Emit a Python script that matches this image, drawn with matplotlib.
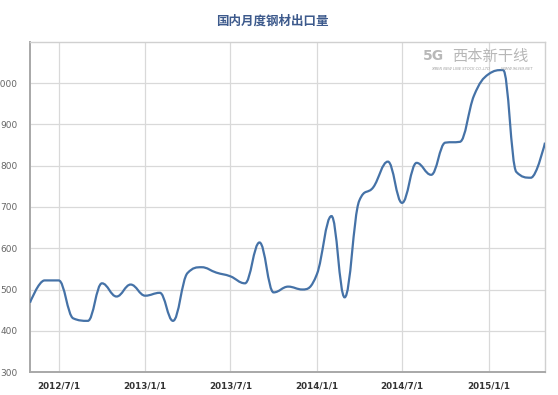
import datetime as dt
import numpy as np
import matplotlib
matplotlib.use('Agg')
import matplotlib.pyplot as plt
import matplotlib.dates as mdates
from matplotlib.path import Path
from matplotlib.patches import PathPatch

# monthly steel exports (10k tonnes), 2012/5 .. 2015/5
months = ['2012-05', '2012-06', '2012-07', '2012-08', '2012-09', '2012-10', '2012-11', '2012-12',
          '2013-01', '2013-02', '2013-03', '2013-04', '2013-05', '2013-06', '2013-07', '2013-08',
          '2013-09', '2013-10', '2013-11', '2013-12', '2014-01', '2014-02', '2014-03', '2014-04',
          '2014-05', '2014-06', '2014-07', '2014-08', '2014-09', '2014-10', '2014-11', '2014-12',
          '2015-01', '2015-02', '2015-03', '2015-04', '2015-05']
exports = [468, 522, 522, 430, 424, 515, 483, 512,
           485, 492, 424, 540, 554, 541, 532, 515,
           614, 493, 507, 500, 537, 678, 481, 715,
           748, 810, 710, 807, 778, 856, 858, 970,
           1022, 1032, 785, 771, 856]
tick_dates = ['2012-07-01', '2013-01-01', '2013-07-01', '2014-01-01', '2014-07-01', '2015-01-01']
tick_labels = ['2012/7/1', '2013/1/1', '2013/7/1', '2014/1/1', '2014/7/1', '2015/1/1']
y_ticks = [300, 400, 500, 600, 700, 800, 900, 1000]

plt.rcParams['font.family'] = ['Noto Sans CJK SC', 'DejaVu Sans']

xs = mdates.date2num([dt.datetime.strptime(m + '-01', '%Y-%m-%d') for m in months])
ys = np.array(exports, dtype=float)


# highcharts style spline control points
def spline_path(x, y, smoothing=1.5):
    denom = smoothing + 1
    verts = [(x[0], y[0])]
    codes = [Path.MOVETO]
    right = [(x[0], y[0])]
    left = [(x[0], y[0])]
    for i in range(1, len(x) - 1):
        px, py = x[i], y[i]
        lx, ly = (smoothing * px + x[i - 1]) / denom, (smoothing * py + y[i - 1]) / denom
        rx, ry = (smoothing * px + x[i + 1]) / denom, (smoothing * py + y[i + 1]) / denom
        if rx != lx:
            corr = ((ry - ly) * (rx - px)) / (rx - lx) + py - ry
            ly += corr
            ry += corr
        if ly > y[i - 1] and ly > py:
            ly = max(y[i - 1], py)
            ry = 2 * py - ly
        elif ly < y[i - 1] and ly < py:
            ly = min(y[i - 1], py)
            ry = 2 * py - ly
        if ry > y[i + 1] and ry > py:
            ry = max(y[i + 1], py)
            ly = 2 * py - ry
        elif ry < y[i + 1] and ry < py:
            ry = min(y[i + 1], py)
            ly = 2 * py - ry
        left.append((lx, ly))
        right.append((rx, ry))
    left.append((x[-1], y[-1]))
    right.append((x[-1], y[-1]))
    for i in range(1, len(x)):
        verts += [right[i - 1], left[i], (x[i], y[i])]
        codes += [Path.CURVE4] * 3
    return Path(verts, codes)


fig = plt.figure(figsize=(5.58, 3.95), dpi=100)
ax = fig.add_axes([30 / 558, 23 / 395, 515 / 558, 330 / 395])

ax.add_patch(PathPatch(spline_path(xs, ys), facecolor='none', edgecolor='#4572A7', lw=1.6, zorder=3))

ax.set_xlim(xs[0], xs[-1])
ax.set_ylim(300, 1100)
ax.set_yticks(y_ticks)
ax.set_yticklabels([str(v) for v in y_ticks], color='#666666', fontsize=6.5, family='DejaVu Sans')
ax.set_xticks(mdates.date2num([dt.datetime.strptime(d, '%Y-%m-%d') for d in tick_dates]))
ax.set_xticklabels(tick_labels, color='#333333', fontsize=6.3, fontweight='bold', family='DejaVu Sans')
ax.tick_params(axis='both', length=0)
ax.tick_params(axis='y', pad=9)
ax.tick_params(axis='x', pad=7)
ax.grid(True, color='#d9d9d9', lw=0.9)
ax.set_axisbelow(True)
for s in ['top', 'right']:
    ax.spines[s].set_color('#d0d0d0')
    ax.spines[s].set_linewidth(1.0)
for s in ['left', 'bottom']:
    ax.spines[s].set_color('#a8a8a8')
    ax.spines[s].set_linewidth(1.4)

fig.text(272 / 558, 1 - 21 / 395, '国内月度钢材出口量', ha='center', va='center',
         fontsize=9, fontweight='bold', color='#3d5a8c')

# watermark
fig.text(490 / 558, 1 - 56 / 395, '西本新干线', ha='center', va='center', fontsize=11,
         color='#b0b0b0', style='italic', alpha=0.9, zorder=5)
fig.text(433 / 558, 1 - 56 / 395, '5G', ha='center', va='center', fontsize=10,
         color='#b8b8b8', fontweight='bold', family='DejaVu Sans', zorder=5)
fig.text(482 / 558, 1 - 69 / 395, 'XIBEN NEW LINE STOCK CO.,LTD          WWW.96369.NET', ha='center',
         va='center', fontsize=2.6, color='#a0a0a0', family='DejaVu Sans', style='italic', zorder=5)

fig.savefig('out.png', dpi=100)
